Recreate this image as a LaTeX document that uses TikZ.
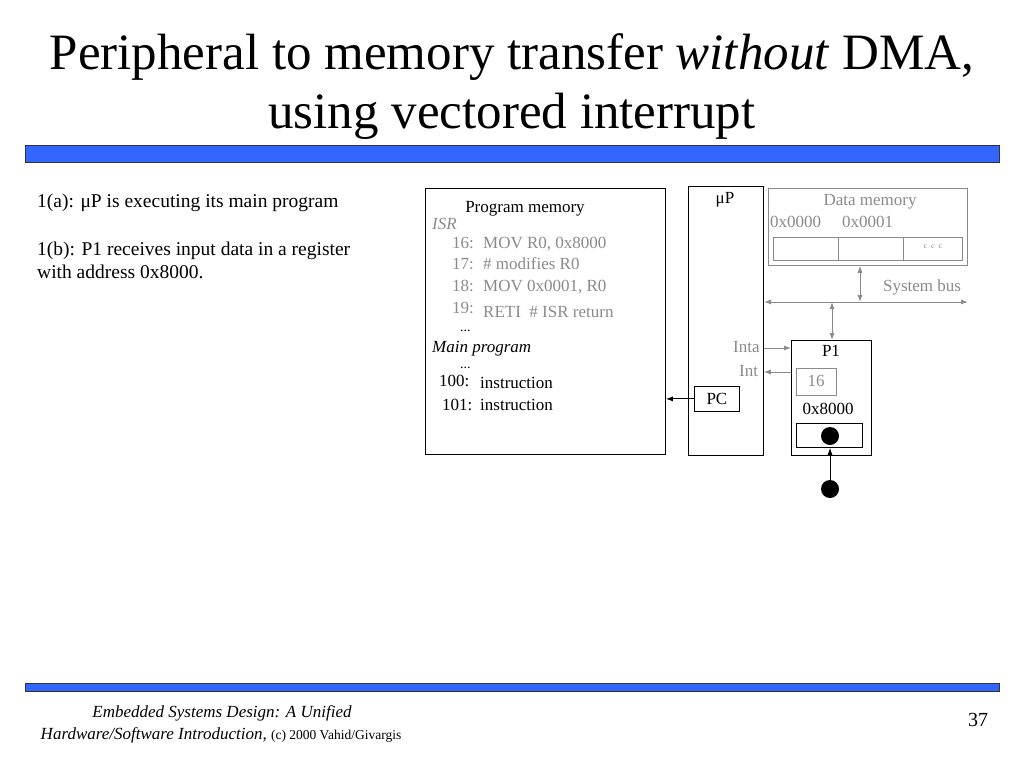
\documentclass[tikz,border=0pt]{standalone}
\usepackage{fontspec}
\setmainfont{Liberation Serif}
\usetikzlibrary{arrows.meta}
\definecolor{barblue}{HTML}{3366FF}
\definecolor{graytxt}{HTML}{8A8A8A}
\tikzset{
  txt/.style={anchor=base west,inner sep=0pt,font=\fontsize{17}{20}\selectfont},
  ctxt/.style={anchor=base,inner sep=0pt,font=\fontsize{17}{20}\selectfont},
  gtxt/.style={txt,text=graytxt},
  gctxt/.style={ctxt,text=graytxt},
  blk/.style={draw=black,line width=0.8pt},
  gbox/.style={draw=graytxt,line width=0.8pt},
  barstyle/.style={fill=barblue,draw=black!80,line width=0.8pt},
  arr/.style={-{Latex[length=7pt,width=5pt]},line width=0.9pt},
  garr/.style={arr,draw=graytxt,color=graytxt},
  gdarr/.style={{Latex[length=7pt,width=5pt]}-{Latex[length=7pt,width=5pt]},line width=1pt,draw=graytxt,color=graytxt},
  dot/.style={circle,fill=black,inner sep=0pt,minimum size=18pt},
  lefttxt/.style={anchor=base west,inner sep=0pt,font=\fontsize{19.5}{23}\selectfont},
  dots/.style={anchor=base west,inner sep=0pt,font=\fontsize{14}{14}\selectfont}
}
\begin{document}
\begin{tikzpicture}[x=1pt,y=-1pt]
\useasboundingbox (0,0) rectangle (1024,768);
% title
\node[anchor=base,inner sep=0pt,font=\fontsize{51}{58}\selectfont] (t1) at (512,70) {Peripheral to memory transfer \textit{without} DMA,};
\node[anchor=base,inner sep=0pt,font=\fontsize{51}{58}\selectfont] (t2) at (512,128) {using vectored interrupt};
% bars
\path[barstyle] (25,145) rectangle (999,162);
\path[barstyle] (25,683) rectangle (999,691);
% left text
\node[lefttxt] (la) at (37,207) {1(a): μP is executing its main program};
\node[lefttxt] (lb1) at (37,255) {1(b): P1 receives input data in a register};
\node[lefttxt] (lb2) at (37,278) {with address 0x8000.};
% program memory
\node[blk,minimum width=240pt,minimum height=266pt,anchor=north west,inner sep=0pt] (pm) at (425,188) {};
\node[ctxt] (pmt) at (525,212) {Program memory};
\node[gtxt,font=\fontsize{17}{20}\selectfont\itshape] (isr) at (432,229) {ISR};
\node[gtxt] (n16) at (452,248) {16:};
\node[gtxt] (i16) at (483,248) {MOV R0, 0x8000};
\node[gtxt] (n17) at (452,269) {17:};
\node[gtxt] (i17) at (483,269) {\# modifies R0};
\node[gtxt] (n18) at (452,291) {18:};
\node[gtxt] (i18) at (483,291) {MOV 0x0001, R0};
\node[gtxt] (n19) at (452,313) {19:};
\node[gtxt] (i19) at (483,317) {RETI\ \ \# ISR return};
\node[dots] (d1) at (460,331) {...};
\node[txt,font=\fontsize{17}{20}\selectfont\itshape] (mp) at (432,352) {Main program};
\node[dots] (d2) at (460,368) {...};
\node[txt] (n100) at (439,386) {100:};
\node[txt] (i100) at (480,388) {instruction};
\node[txt] (n101) at (442,410) {101:};
\node[txt] (i101) at (480,410) {instruction};
% uP
\node[blk,minimum width=75pt,minimum height=269pt,anchor=north west,inner sep=0pt] (up) at (688,186) {};
\node[ctxt] (upt) at (725,203) {μP};
\node[blk,minimum width=45pt,minimum height=25pt,anchor=north west,inner sep=0pt] (pc) at (694,386) {};
\node[ctxt] (pct) at (pc.center) [yshift=-5.5pt] {PC};
\draw[arr] (pc.west) -- (pc.west -| pm.east);
% data memory
\node[gbox,minimum width=199pt,minimum height=77pt,anchor=north west,inner sep=0pt] (dm) at (768,188) {};
\node[gctxt] (dmt) at (870,205) {Data memory};
\node[gtxt] (a0) at (770,227) {0x0000};
\node[gtxt] (a1) at (842,227) {0x0001};
\node[gbox,minimum width=65pt,minimum height=23pt,anchor=north west,inner sep=0pt] (c0) at (773,237) {};
\node[gbox,minimum width=65pt,minimum height=23pt,anchor=north west,inner sep=0pt] (c1) at (838,237) {};
\node[gbox,minimum width=59pt,minimum height=23pt,anchor=north west,inner sep=0pt] (c2) at (903,237) {};
\node[text=graytxt,inner sep=0pt,font=\fontsize{8}{9}\selectfont] (cd) at ([yshift=2pt]c2.center) {c\ \ c\ \ c};
% bus
\coordinate (busL) at (764,302);
\coordinate (busR) at (968,302);
\draw[gdarr] (busL) -- (busR);
\node[gctxt] (sb) at (922,291) {System bus};
\coordinate (dmbus) at (860,302);
\draw[gdarr] (dm.south -| dmbus) -- (dmbus);
% P1
\node[blk,minimum width=80pt,minimum height=115pt,anchor=north west,inner sep=0pt] (p1) at (791,340) {};
\node[ctxt] (p1t) at (831,356) {P1};
\coordinate (p1bus) at (832,302);
\draw[gdarr] (p1bus) -- (p1bus |- p1.north);
\node[gtxt] (inta) at (733,352) {Inta};
\node[gtxt] (int) at (739,376) {Int};
\coordinate (intaS) at (764,348);
\coordinate (intS) at (791,372);
\draw[garr] (intaS) -- (intaS -| p1.west);
\draw[garr] (intS) -- (intS -| up.east);
\node[gbox,minimum width=40pt,minimum height=27pt,anchor=north west,inner sep=0pt] (v16) at (796,368) {};
\node[gctxt] (v16t) at (816,386) {16};
\node[ctxt] (addr) at (828,414) {0x8000};
\node[blk,minimum width=66pt,minimum height=24pt,anchor=north west,inner sep=0pt] (reg) at (796,423) {};
\node[dot] (dot1) at (830,436) {};
\node[dot] (dot2) at (830,489) {};
\draw[arr] (dot2.north) -- (dot2.north |- reg.south);
% footer
\node[anchor=base,inner sep=0pt,font=\fontsize{17}{20}\selectfont\itshape] (f1) at (222,717) {Embedded Systems Design: A Unified};
\node[anchor=base,inner sep=0pt,font=\fontsize{17}{20}\selectfont] (f2) at (221,739) {\textit{Hardware/Software Introduction,} {\fontsize{13.5}{16}\selectfont (c) 2000 Vahid/Givargis}};
\node[anchor=base,inner sep=0pt,font=\fontsize{20}{24}\selectfont] (pg) at (978,726) {37};
\end{tikzpicture}
\end{document}
